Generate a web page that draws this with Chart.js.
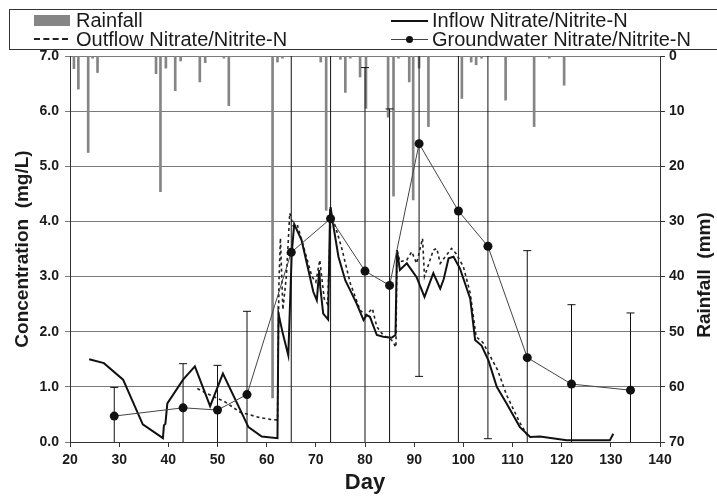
<!DOCTYPE html>
<html>
<head>
<meta charset="utf-8">
<script src="https://cdn.jsdelivr.net/npm/chart.js@4.4.1/dist/chart.umd.min.js"></script>
<style>
  html, body { margin: 0; padding: 0; background: #fff; }
  #wrap { position: relative; width: 717px; height: 497px; overflow: hidden; }
  #chart { position: absolute; left: 0; top: 0; }
  .legend { position: absolute; left: 9px; top: 9px; width: 720px; height: 39px; border: 1px solid #333; }
  .lg { position: absolute; font-family: 'Liberation Sans', Arial, sans-serif; font-size: 20px; line-height: 20px; color: #1a1a1a; white-space: nowrap; }
  .sw { position: absolute; }
</style>
</head>
<body>
<div id="wrap">
  <canvas id="chart" width="717" height="497"></canvas>
  <div class="legend">
    <div class="sw" style="left:24px;top:5px;width:36px;height:11px;background:#858585;"></div>
    <div class="lg" style="left:66px;top:0px;">Rainfall</div>
    <div class="sw" style="left:24px;top:28px;width:34px;border-top:2px dashed #222;"></div>
    <div class="lg" style="left:66px;top:19px;">Outflow Nitrate/Nitrite-N</div>
    <div class="sw" style="left:381px;top:10px;width:37px;border-top:2px solid #111;"></div>
    <div class="lg" style="left:422px;top:0px;">Inflow Nitrate/Nitrite-N</div>
    <div class="sw" style="left:381px;top:29px;width:37px;border-top:1px solid #444;"></div>
    <div class="sw" style="left:396px;top:26px;width:7px;height:7px;border-radius:50%;background:#111;"></div>
    <div class="lg" style="left:422px;top:19px;">Groundwater Nitrate/Nitrite-N</div>
  </div>
</div>
<script>
// --- Data ---
const inflowDay = [23.9, 26.9, 30.8, 34.8, 38.9, 39.1, 39.4, 39.8, 43.0, 45.4, 48.5, 51.1, 56.3, 59.0, 62.2,
  62.4, 63.2, 64.4, 65.1, 65.6, 67.1, 69.5, 70.2, 70.7, 70.9, 71.5, 72.5, 72.9, 73.0, 73.6, 74.6, 76.0, 77.0,
  78.3, 79.7, 80.3, 81.0, 82.4, 83.7, 85.4, 86.2, 86.5, 87.1, 88.5, 90.5, 92.1, 93.9, 95.3, 96.0, 97.0, 98.0,
  99.3, 101.4, 102.4, 103.7, 105.1, 106.8, 108.8, 111.5, 113.6, 115.6, 121.0, 129.8, 130.5];
const inflowConc = [1.50, 1.43, 1.13, 0.32, 0.07, 0.30, 0.33, 0.70, 1.13, 1.37, 0.65, 1.24, 0.27, 0.10, 0.07,
  2.33, 2.00, 1.57, 3.42, 3.95, 3.66, 2.72, 2.57, 3.12, 2.81, 2.33, 2.22, 4.21, 4.26, 3.90, 3.36, 2.93, 2.75,
  2.51, 2.21, 2.30, 2.27, 1.94, 1.91, 1.89, 1.94, 3.48, 3.12, 3.24, 2.99, 2.63, 3.06, 2.78, 2.95, 3.33, 3.36,
  3.15, 2.60, 1.85, 1.75, 1.48, 1.00, 0.70, 0.27, 0.09, 0.10, 0.03, 0.03, 0.15];

const outflowDay = [45.9, 47.8, 51.5, 54.6, 58.3, 60.7, 62.2, 62.5, 62.8, 63.3, 64.0, 64.7, 65.4, 66.2, 67.5,
  69.2, 70.0, 70.8, 71.7, 72.4, 73.0, 73.8, 75.2, 77.0, 79.0, 80.2, 81.5, 82.4, 83.7, 85.4, 86.3, 86.5, 87.1,
  88.5, 89.5, 90.5, 91.7, 92.1, 93.9, 94.6, 95.3, 97.6, 98.5, 100.0, 101.4, 102.6, 104.0, 105.5, 107.0, 108.8,
  111.5, 113.0];
const outflowConc = [0.97, 0.88, 0.73, 0.54, 0.45, 0.41, 0.40, 2.90, 3.70, 2.40, 3.00, 4.15, 3.92, 3.95, 3.54,
  3.00, 2.90, 3.30, 2.60, 2.50, 4.00, 3.96, 3.54, 2.88, 2.39, 2.30, 2.42, 2.09, 1.94, 1.85, 1.72, 3.48, 3.27,
  3.30, 3.45, 3.24, 3.69, 3.00, 3.48, 3.51, 3.24, 3.51, 3.42, 3.18, 2.70, 1.91, 1.80, 1.55, 1.30, 0.85,
  0.35, 0.12];

const gwDay = [29, 43, 50, 56, 65, 73, 80, 85, 91, 99, 105, 113, 122, 134];
const gwConc = [0.47, 0.62, 0.58, 0.86, 3.44, 4.05, 3.10, 2.84, 5.41, 4.19, 3.55, 1.53, 1.05, 0.94];
const gwErr = [0.52, 0.80, 0.81, 1.51, 3.80, 4.20, 3.69, 3.20, 4.22, 4.30, 3.49, 1.94, 1.44, 1.40];

const rainDay = [20.8, 21.7, 23.7, 24.6, 25.6, 37.5, 38.4, 39.5, 41.4, 42.5, 46.4, 47.5, 51.3, 52.3, 61.2,
  62.2, 63.2, 71.0, 72.1, 75.0, 76.0, 77.0, 79.0, 80.2, 84.7, 85.8, 86.8, 89.0, 89.8, 91.0, 92.9, 99.7,
  101.6, 102.6, 103.7, 108.6, 114.4, 117.5, 120.5];
const rainMm = [2.3, 6.0, 17.5, 0.4, 3.0, 3.2, 24.6, 2.2, 6.3, 0.9, 4.7, 1.2, 0.4, 9.0, 62.0,
  1.1, 0.4, 1.1, 28.0, 0.6, 6.6, 0.4, 3.8, 9.5, 11.1, 25.4, 0.4, 4.7, 26.1, 2.2, 12.8, 7.7,
  1.1, 1.6, 0.4, 8.0, 12.8, 0.4, 5.3];

const FONT = "'Liberation Sans', Arial, sans-serif";
const INK = '#1a1a1a';

const pts = (xs, ys) => xs.map((x, i) => ({ x, y: ys[i] }));

// error bars: one segment per sample, separated by gaps
const errPts = gwDay.flatMap((d, i) => [
  { x: d, y: gwConc[i] - gwErr[i] },
  { x: d, y: gwConc[i] + gwErr[i] },
  { x: d, y: null }
]);

// right axis title reads bottom-to-top like the left one
const rightTitle = {
  id: 'rightTitle',
  afterDraw(chart) {
    const { ctx, chartArea } = chart;
    ctx.save();
    ctx.translate(chart.scales.y2.right - 12, (chartArea.top + chartArea.bottom) / 2 + 26);
    ctx.rotate(-Math.PI / 2);
    ctx.font = 'bold 19px ' + FONT;
    ctx.fillStyle = INK;
    ctx.textAlign = 'center';
    ctx.textBaseline = 'middle';
    ctx.fillText('Rainfall  (mm)', 0, 0);
    ctx.restore();
  }
};

new Chart(document.getElementById('chart'), {
  type: 'line',
  data: {
    datasets: [
      {
        type: 'line', label: 'Groundwater Nitrate/Nitrite-N', data: pts(gwDay, gwConc),
        borderColor: '#444', borderWidth: 1, pointRadius: 4.5, pointBackgroundColor: '#111',
        pointBorderColor: '#111', pointBorderWidth: 0, yAxisID: 'y', order: 1
      },
      {
        type: 'line', label: 'Inflow Nitrate/Nitrite-N', data: pts(inflowDay, inflowConc),
        borderColor: '#111', borderWidth: 2, pointRadius: 0, yAxisID: 'y', order: 2
      },
      {
        type: 'line', label: 'Outflow Nitrate/Nitrite-N', data: pts(outflowDay, outflowConc),
        borderColor: '#222', borderWidth: 1.6, borderDash: [3, 3], pointRadius: 0, yAxisID: 'y', order: 3
      },
      {
        type: 'line', label: 'error', data: errPts, spanGaps: false,
        borderColor: '#111', borderWidth: 1, pointStyle: 'line', pointRadius: 4,
        pointBorderColor: '#111', pointBorderWidth: 1, yAxisID: 'y', order: 4
      },
      {
        type: 'bar', label: 'Rainfall', data: pts(rainDay, rainMm),
        backgroundColor: '#858585', barThickness: 2, grouped: false, yAxisID: 'y2', order: 5
      }
    ]
  },
  options: {
    responsive: false,
    animation: false,
    devicePixelRatio: 1,
    events: [],
    layout: { padding: { top: 56, left: 0, right: 0, bottom: 0 } },
    plugins: { legend: { display: false }, tooltip: { enabled: false } },
    scales: {
      x: {
        type: 'linear', min: 20, max: 140, offset: false,
        ticks: { stepSize: 10, color: INK, font: { family: FONT, size: 14, weight: 'bold' }, padding: 5 },
        grid: { drawOnChartArea: false, offset: false, tickLength: 5, color: '#333' },
        border: { color: '#333', width: 1 },
        title: { display: true, text: 'Day', color: INK, font: { family: FONT, size: 22, weight: 'bold' }, padding: { top: 0, bottom: 1 } },
        afterFit: s => { s.height = 55; }
      },
      y: {
        position: 'left', min: 0, max: 7,
        ticks: { stepSize: 1, color: INK, font: { family: FONT, size: 14, weight: 'bold' }, padding: 6, callback: v => v.toFixed(1) },
        grid: { color: '#7a7a7a', tickLength: 5 },
        border: { color: '#333', width: 1 },
        title: { display: true, text: 'Concentration  (mg/L)', color: INK, font: { family: FONT, size: 19, weight: 'bold' }, padding: { top: 11 } },
        afterFit: s => { s.width = 70; }
      },
      y2: {
        position: 'right', min: 0, max: 70, reverse: true,
        ticks: { stepSize: 10, color: INK, font: { family: FONT, size: 14, weight: 'bold' }, padding: 4 },
        grid: { drawOnChartArea: false, tickLength: 5, color: '#333' },
        border: { color: '#333', width: 1 },
        afterFit: s => { s.width = 57; }
      }
    }
  },
  plugins: [rightTitle]
});
</script>
</body>
</html>
